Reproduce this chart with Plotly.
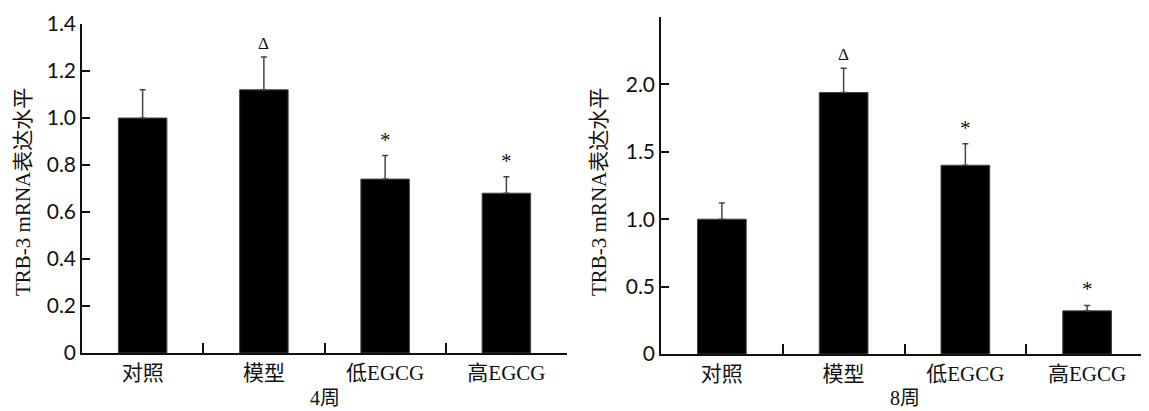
import plotly.graph_objects as go

categories = ["对照", "模型", "低EGCG", "高EGCG"]

week4_values = [1.00, 1.12, 0.74, 0.68]
week4_errors = [0.12, 0.14, 0.10, 0.07]
week4_marks = ["", "Δ", "*", "*"]

week8_values = [1.00, 1.94, 1.40, 0.32]
week8_errors = [0.12, 0.18, 0.16, 0.04]
week8_marks = ["", "Δ", "*", "*"]

week4_ticks = [0, 0.2, 0.4, 0.6, 0.8, 1.0, 1.2, 1.4]
week4_ticktext = ["0", "0.2", "0.4", "0.6", "0.8", "1.0", "1.2", "1.4"]
week8_ticks = [0, 0.5, 1.0, 1.5, 2.0, 2.5]
week8_ticktext = ["0", "0.5", "1.0", "1.5", "2.0", "2.5"]

panel_titles = ["4周", "8周"]
y_title = "TRB-3 mRNA表达水平"

# page body has an 8px default margin; size the figure to fit the window
OFF = 8
W, H = 1149 - OFF, 411 - OFF


def px_x(x):
    return (x - OFF) / W


def px_y(y):
    return (H - (y - OFF)) / H


tick_font = dict(family="Lato, Open Sans, sans-serif", size=21, color="#111")
cat_font = dict(family="Liberation Serif, Noto Sans CJK SC", size=21, color="#111")
title_font = dict(family="Liberation Serif, Noto Sans CJK SC", size=20, color="#111")

fig = go.Figure()

panels = [
    (week4_values, week4_errors, week4_marks, "x", "y"),
    (week8_values, week8_errors, week8_marks, "x2", "y2"),
]
for vals, errs, marks, xa, ya in panels:
    fig.add_trace(go.Bar(
        x=categories, y=vals, width=0.4,
        marker=dict(color="#000", line=dict(color="#444", width=1)),
        error_y=dict(type="data", array=errs, arrayminus=[0] * len(errs),
                     symmetric=False, color="#444", thickness=1.5, width=3),
        xaxis=xa, yaxis=ya, showlegend=False,
    ))
    for c, v, e, m in zip(categories, vals, errs, marks):
        if m:
            fig.add_annotation(
                x=c, y=v + e, xref=xa, yref=ya, text=m, showarrow=False,
                xanchor="center", yanchor="bottom", yshift=2,
                font=dict(family="Liberation Serif, DejaVu Serif",
                          size=21 if m == "*" else 17, color="#111"),
            )

xdom1 = [px_x(82), px_x(567)]
xdom2 = [px_x(661), px_x(1148)]
ydom1 = [px_y(353), px_y(24)]
ydom2 = [px_y(354), px_y(17)]

common_x = dict(
    type="category", range=[-0.5, 3.5], showline=True, linecolor="#111", linewidth=1.5,
    ticks="inside", ticklen=10, tickwidth=1.5, tickcolor="#111", tickson="boundaries",
    tickfont=cat_font, showgrid=False, zeroline=False, automargin=False,
)
common_y = dict(
    showline=True, linecolor="#111", linewidth=1.5, ticks="inside", ticklen=8,
    tickwidth=1.5, tickcolor="#111", tickfont=tick_font, showgrid=False,
    zeroline=False, automargin=False,
)

fig.update_layout(
    width=W, height=H,
    margin=dict(l=0, r=0, t=0, b=0),
    paper_bgcolor="white", plot_bgcolor="white",
    xaxis=dict(domain=xdom1, anchor="y", **common_x),
    yaxis=dict(domain=ydom1, anchor="x", range=[0, 1.4], tickvals=week4_ticks,
               ticktext=week4_ticktext, **common_y),
    xaxis2=dict(domain=xdom2, anchor="y2", **common_x),
    yaxis2=dict(domain=ydom2, anchor="x2", range=[0, 2.5], tickvals=week8_ticks,
                ticktext=week8_ticktext, **common_y),
)

# axis titles
for dom, title in zip([xdom1, xdom2], panel_titles):
    fig.add_annotation(x=(dom[0] + dom[1]) / 2, y=px_y(410), xref="paper", yref="paper",
                       text=title, showarrow=False, xanchor="center", yanchor="bottom",
                       borderpad=0, font=title_font)
for xc in [23, 599]:
    fig.add_annotation(x=px_x(xc), y=px_y(192), xref="paper", yref="paper",
                       text=y_title, textangle=-90, showarrow=False,
                       xanchor="center", yanchor="middle", font=cat_font)

fig.write_html("out.html")
